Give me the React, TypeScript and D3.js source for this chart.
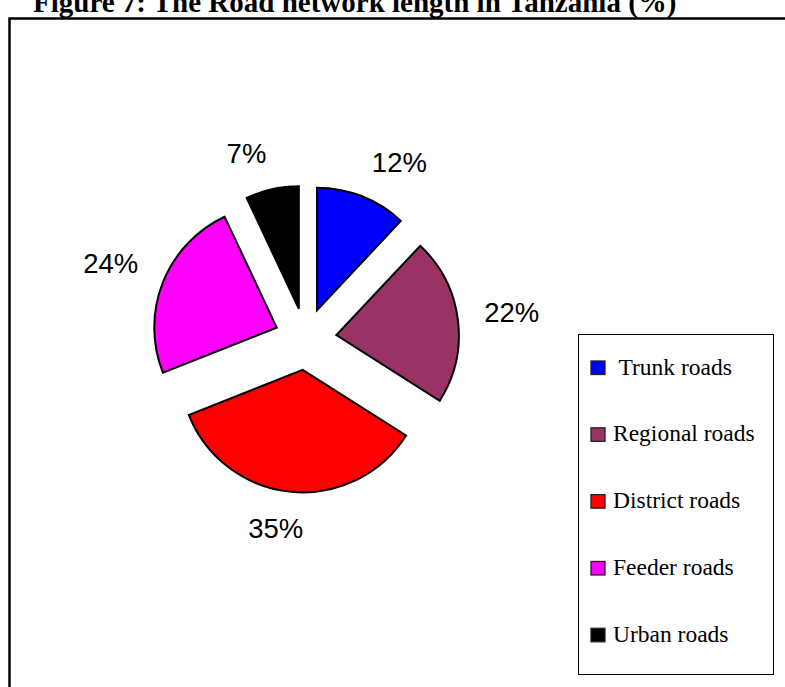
import React from "react";
import * as d3 from "d3";

const title = "Figure 7: The Road network length in Tanzania (%)";
const categories = [" Trunk roads", "Regional roads", "District roads", "Feeder roads", "Urban roads"];
const values = [12, 22, 35, 24, 7];
const colors = ["#0000FF", "#993366", "#FF0000", "#FF00FF", "#000000"];

const W = 785;
const H = 687;
const cx = 305.6;
const cy = 339;
const R = 122.5;
const EXPLODE = 31;
const LABEL_D = 180;
const LABEL_FS = 27.5;

export default function App() {
  const pie = d3.pie<number>().sort(null).value((d) => d).startAngle(0).endAngle(2 * Math.PI);
  const arcs = pie(values);
  const arc = d3.arc<d3.PieArcDatum<number>>().innerRadius(0).outerRadius(R);
  const total = d3.sum(values);

  const legendY = d3.scalePoint<string>().domain(categories).range([361, 628.3]);

  const clamp = (v: number) => Math.max(-1, Math.min(1, v));

  return (
    <svg
      width={W}
      height={H}
      style={{ position: "absolute", left: 0, top: 0, display: "block", background: "#fff" }}
    >
      <rect x={0} y={0} width={W} height={H} fill="#fff" />
      <text
        x={33}
        y={12}
        fontFamily="'Liberation Serif', 'Times New Roman', serif"
        fontWeight="bold"
        fontSize={29}
        fill="#000"
      >
        {title}
      </text>
      <rect x={9.5} y={18.5} width={800} height={700} fill="none" stroke="#000" strokeWidth={2.5} />

      <g transform={`translate(${cx},${cy})`}>
        {arcs.map((a, i) => {
          const mid = (a.startAngle + a.endAngle) / 2;
          const dx = Math.sin(mid) * EXPLODE;
          const dy = -Math.cos(mid) * EXPLODE;
          return (
            <path
              key={i}
              d={arc(a) || ""}
              transform={`translate(${dx},${dy})`}
              fill={colors[i]}
              stroke="#000"
              strokeWidth={2}
              strokeLinejoin="miter"
            />
          );
        })}
        {arcs.map((a, i) => {
          const mid = (a.startAngle + a.endAngle) / 2;
          const ux = Math.sin(mid);
          const uy = -Math.cos(mid);
          const pct = Math.round((a.data / total) * 100);
          const txt = `${pct}%`;
          const digits = String(pct).length;
          const w = LABEL_FS * (0.556 * digits + 0.889);
          const h = LABEL_FS * 0.716;
          const px = ux * LABEL_D;
          const py = uy * LABEL_D;
          const bx = px + (w / 2) * clamp(ux / 0.2);
          const by = py + (h / 2) * clamp(uy / 0.3);
          return (
            <text
              key={`l${i}`}
              x={bx}
              y={by + h / 2}
              textAnchor="middle"
              fontFamily="'Liberation Sans', Arial, sans-serif"
              fontSize={LABEL_FS}
              fill="#000"
            >
              {txt}
            </text>
          );
        })}
      </g>

      <rect x={578.5} y={334.5} width={195} height={340} fill="#fff" stroke="#000" strokeWidth={1} />
      {categories.map((c, i) => {
        const y = legendY(c) as number;
        return (
          <g key={`lg${i}`}>
            <rect x={591} y={y} width={14} height={13.5} fill={colors[i]} stroke="#222" strokeWidth={1.3} />
            <text
              x={613}
              y={y + 13.5}
              fontFamily="'Liberation Serif', 'Times New Roman', serif"
              fontSize={23.5}
              fill="#000"
              style={{ whiteSpace: "pre" }}
            >
              {c}
            </text>
          </g>
        );
      })}
    </svg>
  );
}
